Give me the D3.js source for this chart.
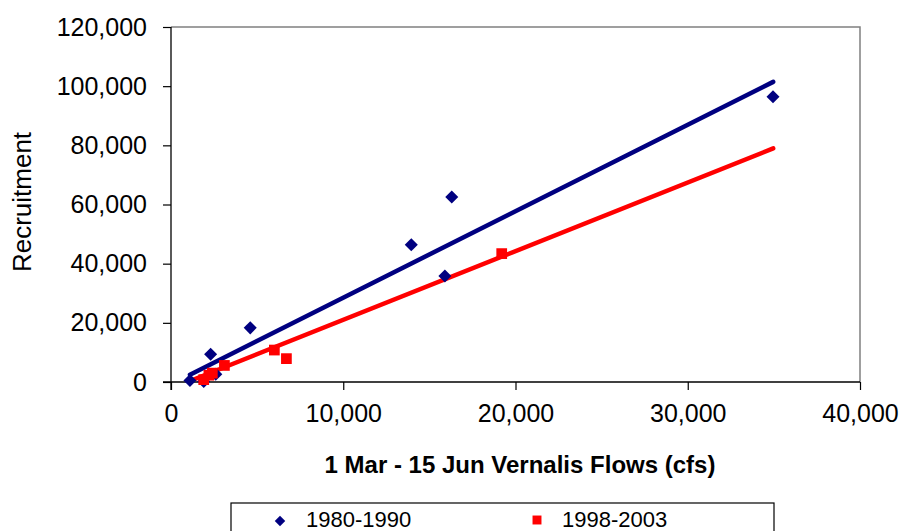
<!DOCTYPE html>
<html><head><meta charset="utf-8">
<script src="https://cdn.jsdelivr.net/npm/d3@7/dist/d3.min.js"></script>
<style>body{margin:0;background:#fff;} svg{display:block;font-family:"Liberation Sans",Arial,sans-serif;}</style>
</head><body>
<svg id="c" width="905" height="531"></svg>
<script>
// Data
const seriesNames = ["1980-1990", "1998-2003"];
const blueX = [1100, 1900, 2300, 2600, 4600, 13950, 15900, 16300, 34950];
const blueY = [500, 200, 9400, 2600, 18300, 46400, 35800, 62500, 96400];
const redX = [1900, 2200, 2400, 3100, 6000, 6700, 19200];
const redY = [800, 2300, 3000, 5600, 10800, 7900, 43400];
// Trendlines (start/end x and y values)
const blueTrendX = [1100, 34960];
const blueTrendY = [2480, 101450];
const redTrendX = [1100, 34960];
const redTrendY = [340, 78960];
const xTicks = [0, 10000, 20000, 30000, 40000];
const yTicks = [0, 20000, 40000, 60000, 80000, 100000, 120000];

const svg = d3.select("#c");
const L = 171, R = 860, T = 27, B = 382;
const x = d3.scaleLinear().domain([0, 40000]).range([L, R]);
const y = d3.scaleLinear().domain([0, 120000]).range([B, T]);
const fmt = d3.format(",");

// plot border (gray top/right)
svg.append("path").attr("d", `M${L},${T}H${R}V${B}`).attr("fill","none").attr("stroke","#808080").attr("stroke-width",1.5);

// axes
const yAx = svg.append("g").attr("transform", `translate(${L},0)`)
  .call(d3.axisLeft(y).tickValues(yTicks).tickFormat(fmt).tickSize(8).tickPadding(16));
const xAx = svg.append("g").attr("transform", `translate(0,${B})`)
  .call(d3.axisBottom(x).tickValues(xTicks).tickFormat(fmt).tickSize(8).tickPadding(14));
[yAx, xAx].forEach(g => {
  g.select(".domain").remove();
  g.selectAll("line").attr("stroke","#000").attr("stroke-width",1.2);
  g.selectAll("text").attr("font-size", 25).attr("fill","#000").attr("font-family","Liberation Sans, Arial, sans-serif");
});
svg.append("line").attr("x1",L).attr("x2",L).attr("y1",T).attr("y2",B+8).attr("stroke","#000").attr("stroke-width",1.3);
svg.append("line").attr("x1",L-8).attr("x2",R).attr("y1",B).attr("y2",B).attr("stroke","#000").attr("stroke-width",1.3);

// trendlines
const ln = d3.line().x(d => x(d[0])).y(d => y(d[1]));
svg.append("path").attr("d", ln(d3.zip(blueTrendX, blueTrendY))).attr("stroke","#000080").attr("stroke-width",4.5).attr("stroke-linecap","round").attr("fill","none");
svg.append("path").attr("d", ln(d3.zip(redTrendX, redTrendY))).attr("stroke","#FF0000").attr("stroke-width",4.5).attr("stroke-linecap","round").attr("fill","none");

// markers
svg.append("g").selectAll("path").data(d3.zip(blueX, blueY)).join("path")
  .attr("d", d3.symbol().type(d3.symbolSquare).size(85))
  .attr("transform", d => `translate(${x(d[0])},${y(d[1])}) rotate(45)`).attr("fill","#000080");
svg.append("g").selectAll("path").data(d3.zip(redX, redY)).join("path")
  .attr("d", d3.symbol().type(d3.symbolSquare).size(115))
  .attr("transform", d => `translate(${x(d[0])},${y(d[1])})`).attr("fill","#FF0000");

// axis titles
svg.append("text").attr("x", 520).attr("y", 473).attr("text-anchor","middle")
  .attr("font-size", 24).attr("font-weight","bold").text("1 Mar - 15 Jun Vernalis Flows (cfs)");
svg.append("text").attr("transform","translate(31,202) rotate(-90)").attr("text-anchor","middle")
  .attr("font-size", 26).text("Recruitment");

// legend
svg.append("rect").attr("x",231).attr("y",503).attr("width",543).attr("height",40).attr("fill","#fff").attr("stroke","#000").attr("stroke-width",1.2);
svg.append("path").attr("d", d3.symbol().type(d3.symbolSquare).size(55)).attr("transform","translate(280,521) rotate(45)").attr("fill","#000080");
svg.append("text").attr("x",306).attr("y",527).attr("font-size",22).text(seriesNames[0]);
svg.append("path").attr("d", d3.symbol().type(d3.symbolSquare).size(80)).attr("transform","translate(537,520)").attr("fill","#FF0000");
svg.append("text").attr("x",562).attr("y",527).attr("font-size",22).text(seriesNames[1]);
</script>
</body></html>
